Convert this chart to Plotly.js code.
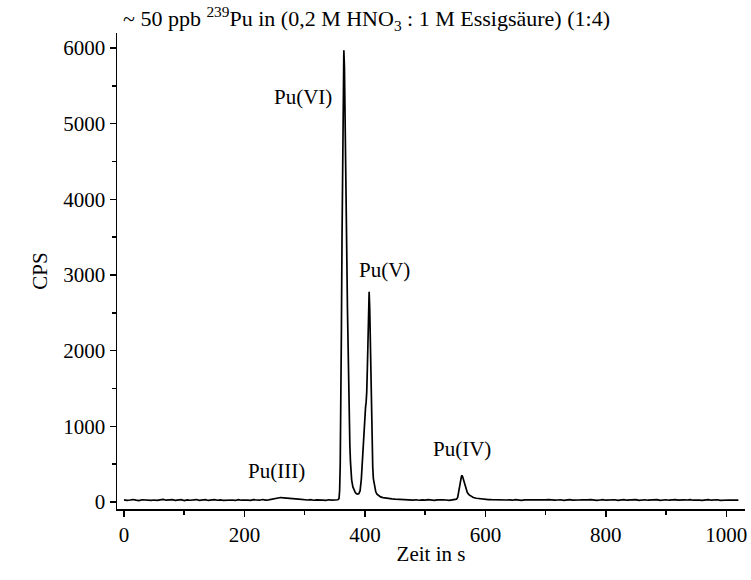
<!DOCTYPE html>
<html>
<head>
<meta charset="utf-8">
<script src="https://cdn.plot.ly/plotly-3.0.1.min.js"></script>
<style>html,body{margin:0;padding:0;background:#fff;}#chart{width:751px;height:580px;}</style>
</head>
<body>
<div id="chart"></div>
<script>
// Time (s) and counts per second
const baseA_t = [0,5,10,15,20,25,30,35,40,45,50,55,60,65,70,75,80,85,90,95,100,105,110,115,120,125,130,135,140,145,150,155,160,165,170,175,180,185,190,195,200,205,210,215,220,225,230,235,240];
const baseA_y = [28,22,27,33,25,20,30,26,32,23,27,21,29,34,24,26,31,22,27,32,20,29,24,27,33,22,26,31,21,27,32,24,29,22,26,31,27,21,32,24,29,26,22,31,27,24,33,25,28];
const puIII_t = [245,250,255,260,265,270,275,280,285,290,295,300];
const puIII_y = [35,45,55,60,56,50,47,44,42,38,33,30];
const baseB_t = [305,310,315,320,325,330,335,340,345,350,355];
const baseB_y = [27,31,24,29,32,25,22,30,26,33,30];
const puVI_t = [357,358,359,360,361,362,363,364,365,366,367,368,369,370,371,372,373,374,375,376,377,378,380,382,384,386,388];
const puVI_y = [45,150,500,1200,2300,3500,4600,5500,5970,5750,5250,4600,3900,3200,2550,1950,1450,1050,750,530,380,290,200,150,125,110,105];
const puV_t = [390,392,394,396,398,400,401,402,403,404,405,406,407,408,409,410,411,412,413,414,416,418,420,423,426,430,435,440,445,450,455,460,465,470];
const puV_y = [112,150,300,600,950,1180,1250,1320,1450,1750,2200,2600,2780,2550,2100,1600,1100,720,460,310,190,135,105,82,68,58,50,45,41,38,35,33,31,28];
const baseC_t = [475,480,485,490,495,500,505,510,515,520,525,530,535,540,545,550];
const baseC_y = [31,26,30,24,29,25,31,27,22,29,25,30,27,23,29,32];
const puIV_t = [552,554,556,558,560,561,562,564,566,568,570,573,576,580,585,590,595,600,605,610];
const puIV_y = [38,60,130,240,330,352,340,280,210,160,125,95,75,60,50,44,40,36,33,31];
const baseD_t = [615,620,625,630,635,640,645,650,655,660,665,670,675,680,685,690,695,700,705,710,715,720,725,730,735,740,745,750,755,760,765,770,775,780,785,790,795,800,805,810,815,820,825,830,835,840,845,850,855,860,865,870,875,880,885,890,895,900,905,910,915,920,925,930,935,940,945,950,955,960,965,970,975,980,985,990,995,1000,1005,1010,1015,1020];
const baseD_y = [29,25,31,22,27,28,24,32,26,21,28,27,31,24,26,30,22,28,32,25,24,27,30,21,28,31,25,22,27,30,24,28,32,25,22,27,31,24,28,26,30,21,27,31,24,28,26,32,22,27,30,24,28,26,31,22,27,30,24,28,32,25,22,28,27,31,24,30,26,21,28,31,24,27,30,22,26,32,27,24,28,26];

const peakLabels = ["Pu(III)","Pu(VI)","Pu(V)","Pu(IV)"];
const peakLabelX = [254,297,432,561];
const peakLabelY = [410,5350,3066,700];

const time = [].concat(baseA_t, puIII_t, baseB_t, puVI_t, puV_t, baseC_t, puIV_t, baseD_t);
const cps  = [].concat(baseA_y, puIII_y, baseB_y, puVI_y, puV_y, baseC_y, puIV_y, baseD_y);

const serif = "Liberation Serif, Times New Roman, serif";

const trace = {
  x: time, y: cps, type: "scatter", mode: "lines",
  line: {color: "#000", width: 1.7}, hoverinfo: "skip"
};

const annotations = peakLabels.map((t, i) => ({
  x: peakLabelX[i], y: peakLabelY[i], xref: "x", yref: "y",
  text: t, showarrow: false, font: {family: serif, size: 21, color: "#000"}
}));
annotations.push({
  xref: "paper", yref: "paper", x: 0.006, y: 1.0315, xanchor: "left", yanchor: "middle",
  text: "~ 50 ppb <sup>239</sup>Pu in (0,2 M HNO<sub>3</sub> : 1 M Essigsäure) (1:4)",
  showarrow: false, font: {family: serif, size: 22, color: "#000"}
});

const layout = {
  width: 751, height: 580,
  margin: {l: 117, r: 6, t: 33, b: 71},
  paper_bgcolor: "#fff", plot_bgcolor: "#fff",
  showlegend: false,
  font: {family: serif, size: 21, color: "#000"},
  xaxis: {
    range: [-11.6, 1031], showgrid: false, zeroline: false,
    showline: true, linecolor: "#000", linewidth: 1.5,
    ticks: "outside", ticklen: 6, tickwidth: 1.5, tickcolor: "#000",
    tick0: 0, dtick: 200,
    minor: {dtick: 100, ticks: "outside", ticklen: 4, tickwidth: 1.5, tickcolor: "#000", showgrid: false},
    tickfont: {family: serif, size: 21, color: "#000"},
    title: {text: "Zeit in s", font: {family: serif, size: 21, color: "#000"}, standoff: 0}
  },
  yaxis: {
    range: [-92, 6198], showgrid: false, zeroline: false,
    showline: true, linecolor: "#000", linewidth: 1.5,
    ticks: "outside", ticklen: 6, tickwidth: 1.5, tickcolor: "#000",
    tick0: 0, dtick: 1000,
    minor: {dtick: 500, ticks: "outside", ticklen: 4, tickwidth: 1.5, tickcolor: "#000", showgrid: false},
    tickfont: {family: serif, size: 21, color: "#000"},
    title: {text: "CPS", font: {family: serif, size: 21, color: "#000"}, standoff: 10}
  },
  annotations: annotations
};

Plotly.newPlot("chart", [trace], layout, {displayModeBar: false, staticPlot: true});
</script>
</body>
</html>
